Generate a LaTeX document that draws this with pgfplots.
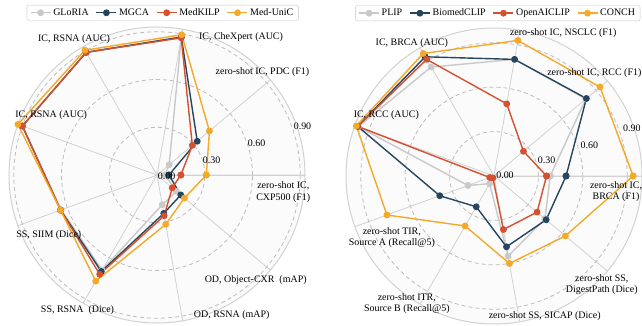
\documentclass[border=0pt]{standalone}
\usepackage{pgfplots}
\pgfplotsset{compat=1.18}
\usepgfplotslibrary{polar}
\usepackage{fontspec}
\setmainfont{Liberation Serif}
\definecolor{cGray}{HTML}{C9C9C9}
\definecolor{cBlue}{HTML}{25465E}
\definecolor{cRed}{HTML}{D4502E}
\definecolor{cOrange}{HTML}{F4A928}
\definecolor{gridgray}{HTML}{D2D2D2}
\definecolor{dashgray}{HTML}{BDBDBD}
\definecolor{bgfill}{HTML}{FBFBFB}

\pgfplotsset{
  radar/.style={
    scale only axis, width=296bp, height=296bp,
    anchor=center,
    xmin=0, xmax=360,
    xtick={0,40,...,320},
    xticklabels={},
    ymin=0,
    ytick={0.3,0.6,0.9},
    yticklabels={},
    xmajorgrids=true, ymajorgrids=true,
    x grid style={gridgray, line width=0.8bp},
    y grid style={dashgray, dashed, dash pattern=on 4bp off 3bp, line width=0.8bp},
    axis line style={draw=gridgray, line width=1bp},
    major tick length=0pt,
    axis background/.style={fill=bgfill},
    legend columns=4,
    legend cell align=left,
    legend style={anchor=center, draw=gray!45, rounded corners=2bp,
      font=\fontsize{10}{12}\selectfont, inner xsep=3bp, inner ysep=1.5bp,
      /tikz/every even column/.append style={column sep=5bp}},
    legend image code/.code={\draw[mark repeat=2,mark phase=2,##1] plot coordinates {(0bp,0bp) (10bp,0bp) (20bp,0bp)};},
  },
  ser/.style={color=#1, mark=*, mark size=2.7bp, line width=1.4bp, line join=round, mark options={solid, fill=#1}},
}

\begin{document}
\fontsize{10}{11.5}\selectfont
\begin{tikzpicture}
\path[use as bounding box] (0,0) rectangle (642bp,326bp);

% ---------------- left radar ----------------
\begin{polaraxis}[radar, at={(157bp,151bp)}, ymax=0.93,
  legend style={at={(0.519,1.048)}}]
\addplot[ser=cGray] coordinates {(0,0.05) (40,0.10) (80,0.88) (120,0.89) (160,0.90) (200,0.64) (240,0.69) (280,0.19) (320,0.16) (360,0.05)};
\addlegendentry{GLoRIA}
\addplot[ser=cBlue] coordinates {(0,0.075) (40,0.33) (80,0.88) (120,0.89) (160,0.90) (200,0.645) (240,0.70) (280,0.245) (320,0.195) (360,0.075)};
\addlegendentry{MGCA}
\addplot[ser=cRed] coordinates {(0,0.15) (40,0.29) (80,0.875) (120,0.89) (160,0.90) (200,0.645) (240,0.72) (280,0.26) (320,0.125) (360,0.15)};
\addlegendentry{MedKILP}
\addplot[ser=cOrange] coordinates {(0,0.31) (40,0.43) (80,0.895) (120,0.905) (160,0.93) (200,0.645) (240,0.77) (280,0.315) (320,0.225) (360,0.31)};
\addlegendentry{Med-UniC}
\end{polaraxis}

% ---------------- right radar ----------------
\begin{polaraxis}[radar, at={(494bp,150bp)}, ymax=1.0,
  legend style={at={(0.5125,1.05)}}]
\addplot[ser=cGray] coordinates {(0,0.38) (40,0.81) (80,0.80) (120,0.85) (160,0.975) (200,0.187) (240,0.06) (280,0.55) (320,0.45) (360,0.38)};
\addlegendentry{PLIP}
\addplot[ser=cBlue] coordinates {(0,0.487) (40,0.815) (80,0.80) (120,0.93) (160,0.98) (200,0.39) (240,0.24) (280,0.486) (320,0.46) (360,0.487)};
\addlegendentry{BiomedCLIP}
\addplot[ser=cRed] coordinates {(0,0.355) (40,0.26) (80,0.495) (120,0.91) (160,0.98) (200,0.03) (240,0.015) (280,0.367) (320,0.38) (360,0.355)};
\addlegendentry{OpenAICLIP}
\addplot[ser=cOrange] coordinates {(0,0.94) (40,0.935) (80,0.93) (120,0.956) (160,0.99) (200,0.77) (240,0.39) (280,0.60) (320,0.63) (360,0.94)};
\addlegendentry{CONCH}
\end{polaraxis}

% radial tick labels
\begin{scope}[every node/.style={inner sep=0pt, font=\fontsize{10}{12}\selectfont}]
\node at (166.7bp,150bp) {0.00};
\node at (211.7bp,166bp) {0.30};
\node at (256.7bp,182.7bp) {0.60};
\node at (302.5bp,199.3bp) {0.90};
\node at (505bp,150.5bp) {0.00};
\node at (546.7bp,165.7bp) {0.30};
\node at (589.3bp,181bp) {0.60};
\node at (631.8bp,197.7bp) {0.90};
\end{scope}

% axis category labels
\begin{scope}[every node/.style={inner sep=0pt, align=center, font=\fontsize{10}{11.5}\selectfont}]
\node at (241bp,288.5bp) {IC, CheXpert (AUC)};
\node at (262.5bp,253.5bp) {zero-shot IC, PDC (F1)};
\node at (283.3bp,134bp) {zero-shot IC,\\CXP500 (F1)};
\node at (255.7bp,46.3bp) {OD, Object-CXR\ \ (mAP)};
\node at (231.7bp,10.7bp) {OD, RSNA (mAP)};
\node at (77.5bp,16.3bp) {SS, RSNA\ \ (Dice)};
\node at (48.8bp,91.3bp) {SS, SIIM (Dice)};
\node at (51.2bp,211bp) {IC, RSNA (AUC)};
\node at (74bp,287bp) {IC, RSNA (AUC)};

\node at (563.2bp,292.7bp) {zero-shot IC, NSCLC (F1)};
\node at (594.3bp,253.3bp) {zero-shot IC, RCC (F1)};
\node at (616bp,134.5bp) {zero-shot IC,\\BRCA (F1)};
\node at (601.8bp,41.5bp) {zero-shot SS,\\DigestPath (Dice)};
\node at (544.7bp,10.3bp) {zero-shot SS, SICAP (Dice)};
\node at (406.8bp,22.5bp) {zero-shot ITR,\\Source B (Recall@5)};
\node at (391.8bp,88.5bp) {zero-shot TIR,\\Source A (Recall@5)};
\node at (386.3bp,211bp) {IC, RCC (AUC)};
\node at (411.8bp,283.3bp) {IC, BRCA (AUC)};
\end{scope}
\end{tikzpicture}
\end{document}
